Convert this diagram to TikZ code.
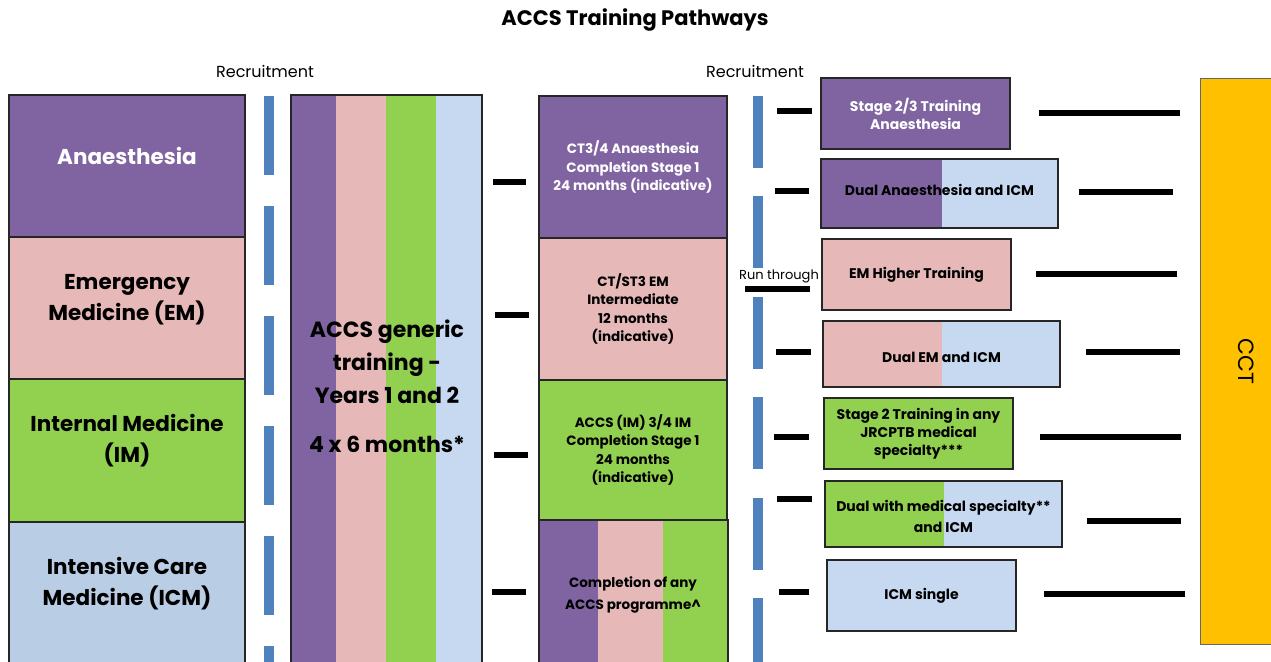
\documentclass[tikz,border=0pt]{standalone}
\usepackage{fontspec}
\setmainfont{Poppins}
\definecolor{anae}{HTML}{8064A2}
\definecolor{emp}{HTML}{E6B9B8}
\definecolor{img}{HTML}{92D050}
\definecolor{icmb}{HTML}{B9CDE5}
\definecolor{icml}{HTML}{C6D9F1}
\definecolor{recb}{HTML}{4F81BD}
\definecolor{cctc}{HTML}{FFC000}
\begin{document}
\begin{tikzpicture}[x=1pt,y=-1pt,
  box/.style={draw=black!85,line width=1.2pt,inner sep=0pt},
  big/.style={font=\fontsize{21.5}{31}\selectfont\bfseries,align=center},
  mid/.style={font=\fontsize{13.5}{18.5}\selectfont\bfseries,align=center},
  rgt/.style={font=\fontsize{14}{18}\selectfont\bfseries,align=center},
  bar/.style={line width=6.5pt},
  recline/.style={line width=10pt,recb}]
  \useasboundingbox (0,0) rectangle (1271,661);
  \node[font=\fontsize{21}{24}\selectfont\bfseries] (title) at (635,20) {ACCS Training Pathways};
  \node[font=\fontsize{16}{18}\selectfont] (rec1) at (265,71) {Recruitment};
  \node[font=\fontsize{16}{18}\selectfont] (rec2) at (755,71) {Recruitment};
  \node[font=\fontsize{13}{15}\selectfont] (run) at (779,276) {Run through};
  % specialty column
  \node[box,fill=anae,minimum width=236,minimum height=142] (anaebox) at (127,166) {};
  \node[box,fill=emp,minimum width=236,minimum height=142] (embox) at (127,308) {};
  \node[box,fill=img,minimum width=236,minimum height=143] (imbox) at (127,450.5) {};
  \node[box,fill=icmb,minimum width=236,minimum height=148] (icmbox) at (127,596) {};
  \node[big,text=white] (anaet) at (127,156) {Anaesthesia};
  \node[big] (emt) at (127,300) {Emergency\\Medicine (EM)};
  \node[big] (imt) at (127,441) {Internal Medicine\\(IM)};
  \node[big] (icmt) at (127,584) {Intensive Care\\Medicine (ICM)};
  % recruitment lines
  \draw[recline,dash pattern=on 79pt off 31pt] (269,96) -- (269,670);
  \draw[recline,dash pattern=on 72pt off 28.4pt] (758,96) -- (758,670);
  % generic years 1 and 2
  \fill[anae] (291,95) rectangle (336,670);
  \fill[emp] (336,95) rectangle (386,670);
  \fill[img] (386,95) rectangle (436,670);
  \fill[icml] (436,95) rectangle (482,670);
  \node[box,minimum width=191,minimum height=575] (gen) at (386.5,382.5) {};
  \node[big,font=\fontsize{22}{33}\selectfont\bfseries] (gent) at (387,362) {ACCS generic\\training -\\Years 1 and 2};
  \node[big,font=\fontsize{22}{33}\selectfont\bfseries] (gent2) at (387,444) {4 x 6 months*};
  % core stage
  \node[box,fill=anae,text=white,mid,minimum width=188,minimum height=142] (ct3) at (633,167) {CT3/4 Anaesthesia\\Completion Stage 1\\24 months (indicative)};
  \node[box,fill=emp,mid,minimum width=188,minimum height=142] (ctem) at (633,309) {CT/ST3 EM\\Intermediate\\12 months\\(indicative)};
  \node[box,fill=img,mid,minimum width=188,minimum height=140] (ctim) at (633,450) {ACCS (IM) 3/4 IM\\Completion Stage 1\\24 months\\(indicative)};
  \fill[anae] (539,520) rectangle (598,670);
  \fill[emp] (598,520) rectangle (663,670);
  \fill[img] (663,520) rectangle (728,670);
  \node[box,minimum width=189,minimum height=150] (comp) at (633.5,595) {};
  \node[mid,font=\fontsize{13.5}{22}\selectfont\bfseries] (compt) at (633,595) {Completion of any\\ACCS programme\^{}};
  % higher training
  \fill[anae] (821,159) rectangle (942,228);
  \fill[icml] (942,159) rectangle (1058,228);
  \fill[emp] (823,321) rectangle (942,387);
  \fill[icml] (942,321) rectangle (1060,387);
  \fill[img] (825,481) rectangle (944,547);
  \fill[icml] (944,481) rectangle (1062,547);
  \node[box,fill=anae,text=white,rgt,minimum width=189,minimum height=71] (st23) at (915.5,113.5) {Stage 2/3 Training\\Anaesthesia};
  \node[box,minimum width=237,minimum height=69] (dualan) at (939.5,193.5) {};
  \node[rgt] (dualant) at (939.5,190) {Dual Anaesthesia and ICM};
  \node[box,fill=emp,rgt,minimum width=189,minimum height=71] (emh) at (916.5,274.5) {EM Higher Training};
  \node[box,minimum width=237,minimum height=66] (dualem) at (941.5,354) {};
  \node[rgt] (dualemt) at (941.5,357) {Dual EM and ICM};
  \node[box,fill=img,rgt,minimum width=189,minimum height=71] (st2) at (918.5,433.5) {Stage 2 Training in any\\JRCPTB medical\\specialty***};
  \node[box,minimum width=237,minimum height=66] (dualms) at (943.5,514) {};
  \node[rgt,font=\fontsize{14}{21}\selectfont\bfseries] (dualmst) at (943.5,516.5) {Dual with medical specialty**\\and ICM};
  \node[box,fill=icml,rgt,minimum width=189,minimum height=71] (icms) at (921.5,595.5) {ICM single};
  % cct
  \node[box,fill=cctc,draw=black!60,line width=0.8pt,minimum width=71,minimum height=566] (cct) at (1235.5,361) {};
  \node[font=\fontsize{22}{26}\selectfont,rotate=-90] (cctt) at (1246,361) {CCT};
  % bars
  \foreach \xa/\xb/\yy in {493/526/182,495/529/315,494/528/455,492/526/592,
    777/812/111,775/809/191,745/810/289,776/811/352,774/809/437,777/812/499,779/809/592,
    1039/1180/113,1079/1173/192,1036/1177/274,1086/1180/352,1040/1181/437,1087/1181/521,1044/1185/594}
    \draw[bar] (\xa,\yy) -- (\xb,\yy);
\end{tikzpicture}
\end{document}
